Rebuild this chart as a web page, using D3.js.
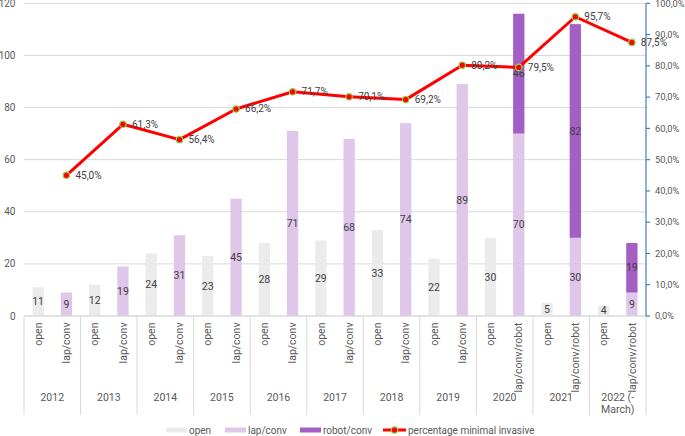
<!DOCTYPE html>
<html><head><meta charset="utf-8">
<script src="https://cdn.jsdelivr.net/npm/d3@7/dist/d3.min.js"></script>
<style>
body{margin:0;background:#fff}
svg{display:block}
text{font-family:Roboto,"Liberation Sans",Arial,sans-serif}
</style>
</head><body><svg id="c" width="685" height="436"></svg>
<script>
const years = ["2012","2013","2014","2015","2016","2017","2018","2019","2020","2021","2022 (-March)"];
const openLabel = "open";
const miLabels = ["lap/conv","lap/conv","lap/conv","lap/conv","lap/conv","lap/conv","lap/conv","lap/conv","lap/conv/robot","lap/conv/robot","lap/conv/robot"];
const openVals = [11,12,24,23,28,29,33,22,30,5,4];
const lapVals = [9,19,31,45,71,68,74,89,70,30,9];
const robotVals = [0,0,0,0,0,0,0,0,46,82,19];
const pctVals = [45.0,61.3,56.4,66.2,71.7,70.1,69.2,80.2,79.5,95.7,87.5];
const leftTicks = [0,20,40,60,80,100,120];
const rightTicks = [0,0.1,0.2,0.3,0.4,0.5,0.6,0.7,0.8,0.9,1.0];
const seriesNames = ["open","lap/conv","robot/conv","percentage minimal invasive"];

const C = {open:"#ebebeb", lap:"#dfc7ea", robot:"#a35fc3", line:"#ff0000", mark:"#92d050",
  grid:"#d9d9d9", txt:"#595959", lab:"#404040", axis:"#4a7ebb"};

const svg = d3.select("#c");
const L = 24, R = 646, T = 3.3, B = 316;
const keys = [];
years.forEach((y,i)=>{keys.push(i+"-o"); keys.push(i+"-m");});
const x = d3.scaleBand().domain(keys).range([L,R]).paddingInner(0.6).paddingOuter(0.3);
const y = d3.scaleLinear().domain([0,120]).range([B,T]);
const y2 = d3.scaleLinear().domain([0,1]).range([B,T]);
const bw = x.bandwidth();
const cx = k => x(k) + bw/2;
const fmt = d3.formatLocale({decimal:",",thousands:".",grouping:[3],currency:["","€"]}).format(".1%");

// gridlines
svg.append("g").selectAll("line").data(leftTicks).join("line")
  .attr("x1",L).attr("x2",R).attr("y1",d=>y(d)).attr("y2",d=>y(d))
  .attr("stroke",C.grid).attr("stroke-width",1);
// left labels
svg.append("g").selectAll("text").data(leftTicks).join("text")
  .attr("x",15.5).attr("y",d=>y(d)).attr("dy","0.35em").attr("text-anchor","end")
  .attr("font-size",10).attr("fill",C.txt).text(d=>d);

// bars
const g = svg.append("g");
years.forEach((yr,i)=>{
  g.append("rect").attr("x",x(i+"-o")).attr("width",bw)
    .attr("y",y(openVals[i])).attr("height",y(0)-y(openVals[i])).attr("fill",C.open);
  g.append("rect").attr("x",x(i+"-m")).attr("width",bw)
    .attr("y",y(lapVals[i])).attr("height",y(0)-y(lapVals[i])).attr("fill",C.lap);
  if(robotVals[i]>0){
    g.append("rect").attr("x",x(i+"-m")).attr("width",bw)
      .attr("y",y(lapVals[i]+robotVals[i])).attr("height",y(lapVals[i])-y(lapVals[i]+robotVals[i])).attr("fill",C.robot);
  }
});
// bar labels
const bl = svg.append("g").attr("font-size",10.5).attr("fill",C.lab).attr("text-anchor","middle");
years.forEach((yr,i)=>{
  bl.append("text").attr("x",cx(i+"-o")).attr("y",(y(0)+y(openVals[i]))/2).attr("dy","0.35em").text(openVals[i]);
  bl.append("text").attr("x",cx(i+"-m")).attr("y",(y(0)+y(lapVals[i]))/2).attr("dy","0.35em").text(lapVals[i]);
  if(robotVals[i]>0)
    bl.append("text").attr("x",cx(i+"-m")).attr("y",(y(lapVals[i])+y(lapVals[i]+robotVals[i]))/2).attr("dy","0.35em").text(robotVals[i]);
});

// x axis baseline & separators
svg.append("line").attr("x1",L).attr("x2",R).attr("y1",B).attr("y2",B).attr("stroke",C.grid);
const step = x.step();
svg.append("g").selectAll("line").data(d3.range(years.length+1)).join("line")
  .attr("x1",d=>L+2*d*step).attr("x2",d=>L+2*d*step).attr("y1",B).attr("y2",415)
  .attr("stroke",C.grid).attr("stroke-width",1);
// category labels
const cl = svg.append("g").attr("font-size",10.5).attr("fill",C.txt).attr("text-anchor","end");
years.forEach((yr,i)=>{
  [[i+"-o",openLabel],[i+"-m",miLabels[i]]].forEach(([k,t])=>{
    cl.append("text").attr("transform",`translate(${cx(k)},322.5) rotate(-90)`).attr("dy","0.35em").text(t);
  });
});
// year labels
const yl = svg.append("g").attr("font-size",10.5).attr("fill",C.txt).attr("text-anchor","middle");
years.forEach((yr,i)=>{
  const mx = L + (2*i+1)*step;
  const parts = yr.includes(" (-") ? [yr.slice(0,yr.indexOf(" (-")+3), yr.slice(yr.indexOf(" (-")+3)] : [yr];
  parts.forEach((p,j)=>{
    yl.append("text").attr("x",mx).attr("y",401+j*12).text(p);
  });
});

// right axis
svg.append("line").attr("x1",R).attr("x2",R).attr("y1",T).attr("y2",B).attr("stroke",C.axis).attr("stroke-width",1.2);
svg.append("g").selectAll("line").data(rightTicks).join("line")
  .attr("x1",R).attr("x2",R+4).attr("y1",d=>y2(d)).attr("y2",d=>y2(d)).attr("stroke",C.axis).attr("stroke-width",1.2);
svg.append("g").selectAll("text").data(rightTicks).join("text")
  .attr("x",655).attr("y",d=>y2(d)).attr("dy","0.35em").attr("font-size",9.3).attr("fill",C.txt).text(d=>fmt(d));

// line
const pts = pctVals.map((v,i)=>[cx(i+"-m"), y2(v/100)]);
svg.append("path").attr("d",d3.line()(pts)).attr("fill","none").attr("stroke",C.line).attr("stroke-width",3).attr("stroke-linejoin","round");
svg.append("g").selectAll("circle").data(pts).join("circle")
  .attr("cx",d=>d[0]).attr("cy",d=>d[1]).attr("r",3.2).attr("fill",C.line).attr("stroke",C.mark).attr("stroke-width",1.2);
svg.append("g").selectAll("text").data(pctVals).join("text")
  .attr("x",(d,i)=>pts[i][0]+9).attr("y",(d,i)=>pts[i][1]).attr("dy","0.35em")
  .attr("font-size",10).attr("fill",C.lab).text(d=>fmt(d/100));

// legend
const lg = svg.append("g").attr("font-size",10).attr("fill",C.txt);
const lgItems = [{x:166,c:C.open},{x:225,c:C.lap},{x:300,c:C.robot}];
lgItems.forEach((it,i)=>{
  lg.append("rect").attr("x",it.x).attr("y",427.5).attr("width",21).attr("height",5).attr("fill",it.c);
  lg.append("text").attr("x",it.x+23).attr("y",430).attr("dy","0.35em").text(seriesNames[i]);
});
lg.append("line").attr("x1",383).attr("x2",406).attr("y1",430).attr("y2",430).attr("stroke",C.line).attr("stroke-width",3);
lg.append("circle").attr("cx",394.5).attr("cy",430).attr("r",3.2).attr("fill",C.line).attr("stroke",C.mark).attr("stroke-width",1.2);
lg.append("text").attr("x",408).attr("y",430).attr("dy","0.35em").text(seriesNames[3]);
</script>
</body></html>
